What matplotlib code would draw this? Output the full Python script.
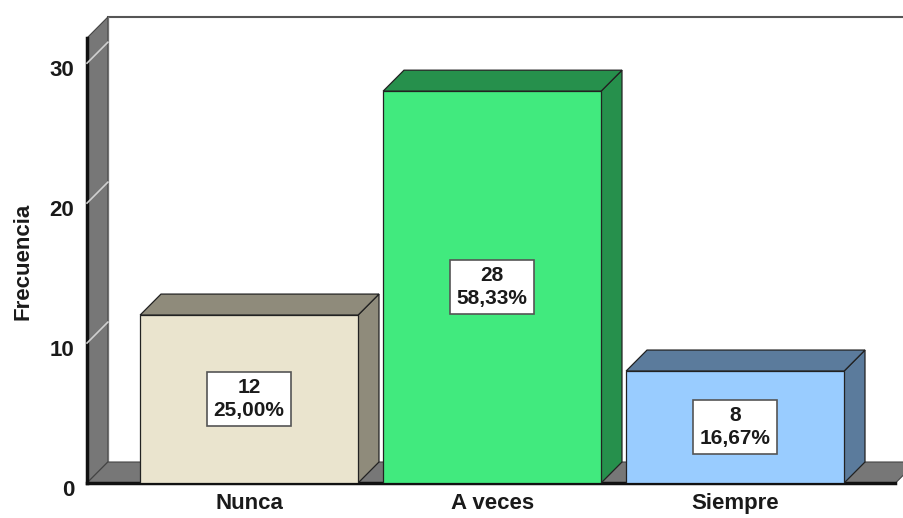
import matplotlib.pyplot as plt
from matplotlib.patches import Polygon, Rectangle
from matplotlib.transforms import ScaledTranslation

plt.rcParams['font.family'] = ['Liberation Sans', 'DejaVu Sans']

categories = ['Nunca', 'A veces', 'Siempre']
counts = [12, 28, 8]
percents = ['25,00%', '58,33%', '16,67%']
face_colors = ['#EAE4CE', '#41EA7E', '#99CCFF']
shade_colors = ['#8F8B7B', '#26904C', '#5B7B9C']
yticks = [0, 10, 20, 30]

# 3D look: depth offset of every box, in data units
DX, DY = 0.086, 1.5
BAR_W = 0.897
X0, X1 = -0.667, 2.695
YTOP = 33.3
WALL_GRAY = '#777777'

fig = plt.figure(figsize=(9.04, 5.18), dpi=100)
ax = fig.add_axes([87 / 904, 35 / 518, 817 / 904, 466 / 518])
ax.set_xlim(X0, X1)
ax.set_ylim(0, YTOP)
for s in ax.spines.values():
    s.set_visible(False)

# back wall top border and back corner
ax.plot([X0 + DX, X1], [YTOP, YTOP], color='#555555', lw=1.5, clip_on=False, zorder=1)
ax.plot([X0 + DX, X0 + DX], [DY, YTOP], color='#999999', lw=1, zorder=1)

# left wall
wall = Polygon([(X0, 0), (X0, YTOP - DY), (X0 + DX, YTOP), (X0 + DX, DY)],
               closed=True, facecolor=WALL_GRAY, edgecolor='#444444', lw=0.8,
               clip_on=False, zorder=2)
ax.add_patch(wall)
ax.plot([X0, X0], [0, YTOP - DY], color='#111111', lw=2.5, clip_on=False, zorder=3)
for v in yticks[1:]:
    ax.plot([X0, X0 + DX], [v, v + DY], color='#d0d0d0', lw=1.2, zorder=3, clip_on=False)

# floor
floor_r = 2.66
floor = Polygon([(X0, 0), (floor_r, 0), (floor_r + DX, DY), (X0 + DX, DY)],
                closed=True, facecolor=WALL_GRAY, edgecolor='#444444', lw=0.8,
                clip_on=False, zorder=2)
ax.add_patch(floor)
ax.plot([X0, floor_r], [0, 0], color='#111111', lw=2.5, clip_on=False, zorder=3)

# bars
for i, (n, pct, fc, sc) in enumerate(zip(counts, percents, face_colors, shade_colors)):
    left, right = i - BAR_W / 2, i + BAR_W / 2
    side = Polygon([(right, 0), (right, n), (right + DX, n + DY), (right + DX, DY)],
                   closed=True, facecolor=sc, edgecolor='#222222', lw=0.9, zorder=4)
    top = Polygon([(left, n), (right, n), (right + DX, n + DY), (left + DX, n + DY)],
                  closed=True, facecolor=sc, edgecolor='#222222', lw=0.9, zorder=4)
    front = Rectangle((left, 0), BAR_W, n, facecolor=fc, edgecolor='#222222',
                      lw=0.9, zorder=5)
    ax.add_patch(side)
    ax.add_patch(top)
    ax.add_patch(front)
    ax.text(i, n / 2, f'{n}\n{pct}', ha='center', va='center', fontsize=15,
            fontweight='bold', color='#1a1a1a', linespacing=1.25, zorder=6,
            bbox=dict(boxstyle='square,pad=0.3', facecolor='white',
                      edgecolor='#555555', lw=1.2))

ax.set_xticks(range(len(categories)))
ax.set_xticklabels(categories, fontsize=16, fontweight='bold', color='#1a1a1a')
ax.set_yticks(yticks)
ax.set_yticklabels([str(v) for v in yticks], fontsize=16, fontweight='bold',
                   color='#1a1a1a')
ax.tick_params(axis='both', length=0)
ax.tick_params(axis='x', pad=7)
ax.tick_params(axis='y', pad=9)
shift = ScaledTranslation(0, -5 / 100, fig.dpi_scale_trans)
for lab in ax.get_yticklabels():
    lab.set_transform(lab.get_transform() + shift)

ax.set_ylabel('Frecuencia', fontsize=16, fontweight='bold', color='#1a1a1a')
ax.yaxis.set_label_coords(-0.066, 0.476)

fig.savefig('out.png', dpi=100)
